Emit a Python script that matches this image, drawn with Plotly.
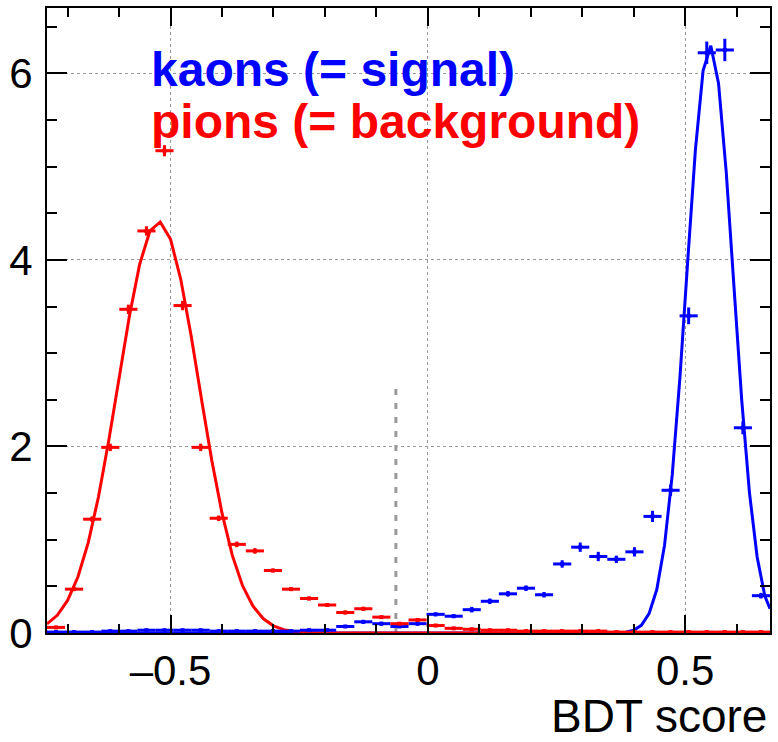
import plotly.graph_objects as go

# ---- data ----
bin_centers = [-0.7224, -0.6873, -0.6522, -0.6170, -0.5819, -0.5468, -0.5117, -0.4765,
               -0.4414, -0.4063, -0.3712, -0.3360, -0.3009, -0.2658, -0.2307, -0.1956,
               -0.1604, -0.1253, -0.0902, -0.0551, -0.0199, 0.0152, 0.0503, 0.0854,
               0.1206, 0.1557, 0.1908, 0.2259, 0.2611, 0.2962, 0.3313, 0.3664,
               0.4016, 0.4367, 0.4718, 0.5069, 0.5421, 0.5772, 0.6123, 0.6474]
half_bin = 0.0176

pions = [0.06, 0.47, 1.22, 1.99, 3.47, 4.31, 5.17, 3.51, 1.99, 1.23, 0.95, 0.88, 0.67, 0.47,
         0.37, 0.30, 0.22, 0.26, 0.17, 0.10, 0.14, 0.08, 0.05, 0.04, 0.03, 0.03, 0.02, 0.02,
         0.02, 0.02, 0.02, 0.01, 0.01, 0.01, 0.01, 0.01, 0.01, 0.01, 0.01, 0.01]
pions_err = [0.01, 0.02, 0.03, 0.04, 0.05, 0.05, 0.06, 0.05, 0.04, 0.03, 0.03, 0.03, 0.02, 0.02,
             0.02, 0.02, 0.02, 0.02, 0.01, 0.01, 0.01, 0.01, 0.01, 0.01, 0.01, 0.01, 0.01, 0.01,
             0.01, 0.01, 0.01, 0.01, 0.01, 0.01, 0.01, 0.01, 0.01, 0.01, 0.01, 0.01]

kaons = [0.01, 0.01, 0.01, 0.02, 0.02, 0.03, 0.03, 0.03, 0.03, 0.02, 0.02, 0.02, 0.02, 0.02,
         0.03, 0.03, 0.07, 0.12, 0.10, 0.07, 0.10, 0.20, 0.18, 0.25, 0.34, 0.42, 0.48, 0.41,
         0.74, 0.92, 0.82, 0.79, 0.87, 1.25, 1.53, 3.40, 6.22, 6.25, 2.20, 0.40]
kaons_err = [0.01, 0.01, 0.01, 0.01, 0.01, 0.01, 0.01, 0.01, 0.01, 0.01, 0.01, 0.01, 0.01, 0.01,
             0.01, 0.01, 0.01, 0.02, 0.02, 0.01, 0.02, 0.02, 0.02, 0.03, 0.03, 0.03, 0.03, 0.03,
             0.04, 0.05, 0.05, 0.04, 0.05, 0.06, 0.06, 0.09, 0.12, 0.12, 0.07, 0.03]

pion_fit_x = [-0.74, -0.72, -0.70, -0.68, -0.66, -0.64, -0.62, -0.60, -0.58, -0.56, -0.54,
              -0.52, -0.50, -0.48, -0.46, -0.44, -0.42, -0.40, -0.38, -0.36, -0.34, -0.32,
              -0.30, -0.28, -0.26, -0.24, -0.22, 0.665]
pion_fit_y = [0.097, 0.190, 0.349, 0.600, 0.966, 1.458, 2.063, 2.733, 3.394, 3.951, 4.310,
              4.406, 4.222, 3.790, 3.189, 2.515, 1.858, 1.287, 0.835, 0.508, 0.290, 0.155,
              0.077, 0.036, 0.016, 0.006, 0.0, 0.0]

kaon_fit_x = [-0.74, 0.37, 0.385, 0.40, 0.415, 0.43, 0.445, 0.46, 0.475, 0.49, 0.505, 0.52,
              0.535, 0.55, 0.565, 0.58, 0.595, 0.61, 0.625, 0.64, 0.655, 0.665]
kaon_fit_y = [0.0, 0.0, 0.009, 0.029, 0.082, 0.207, 0.466, 0.939, 1.695, 2.744, 3.981, 5.176,
              6.030, 6.296, 5.891, 4.939, 3.711, 2.499, 1.508, 0.815, 0.395, 0.260]

cut_x = [-0.062, -0.062]
cut_y = [0.0, 2.7]

x_range = [-0.74, 0.665]
y_range = [0, 6.7]
x_tickvals = [-0.5, 0, 0.5]
x_ticktext = ["\u20130.5", "0", "0.5"]
y_tickvals = [0, 2, 4, 6]
y_ticktext = ["0", "2", "4", "6"]

BLUE = "#0000FF"
RED = "#FF0000"
FONT = "Liberation Sans, Arial, Helvetica, sans-serif"

fig = go.Figure()

fig.add_trace(go.Scatter(x=cut_x, y=cut_y, mode="lines",
                         line=dict(color="#999999", width=3, dash="6px,8px"),
                         showlegend=False, hoverinfo="skip"))

fig.add_trace(go.Scatter(x=kaon_fit_x, y=kaon_fit_y, mode="lines",
                         line=dict(color=BLUE, width=3), showlegend=False))
fig.add_trace(go.Scatter(x=pion_fit_x, y=pion_fit_y, mode="lines",
                         line=dict(color=RED, width=3), showlegend=False))

fig.add_trace(go.Scatter(x=bin_centers, y=kaons, mode="markers",
                         marker=dict(color=BLUE, size=4, symbol="square"),
                         error_x=dict(type="constant", value=half_bin, color=BLUE,
                                      thickness=3, width=0),
                         error_y=dict(type="data", array=kaons_err, color=BLUE,
                                      thickness=3, width=0),
                         showlegend=False))
fig.add_trace(go.Scatter(x=bin_centers, y=pions, mode="markers",
                         marker=dict(color=RED, size=4, symbol="square"),
                         error_x=dict(type="constant", value=half_bin, color=RED,
                                      thickness=3, width=0),
                         error_y=dict(type="data", array=pions_err, color=RED,
                                      thickness=3, width=0),
                         showlegend=False))

axis_common = dict(showline=True, linecolor="black", linewidth=2, mirror="allticks",
                   ticks="inside", tickcolor="black", tickwidth=2,
                   showgrid=True, gridcolor="#999999", gridwidth=1, griddash="dot",
                   zeroline=False, tickfont=dict(family=FONT, size=42, color="black"))

fig.update_xaxes(range=x_range, tickmode="array", tickvals=x_tickvals,
                 ticktext=x_ticktext, ticklen=18,
                 minor=dict(tickmode="linear", tick0=0, dtick=0.1, ticks="inside",
                            ticklen=9, tickcolor="black", tickwidth=2, showgrid=False),
                 ticklabelstandoff=0, **axis_common)
fig.update_yaxes(range=y_range, tickmode="array", tickvals=y_tickvals,
                 ticktext=y_ticktext, ticklen=20,
                 minor=dict(tickmode="linear", tick0=0, dtick=0.5, ticks="inside",
                            ticklen=10, tickcolor="black", tickwidth=2, showgrid=False),
                 ticklabelstandoff=4, **axis_common)

fig.add_annotation(text="<b>kaons (= signal)</b>", xref="paper", yref="paper",
                   x=0.141, y=0.901, xanchor="left", yanchor="middle", showarrow=False,
                   font=dict(family=FONT, size=48, color=BLUE))
fig.add_annotation(text="<b>pions (= background)</b>", xref="paper", yref="paper",
                   x=0.141, y=0.818, xanchor="left", yanchor="middle", showarrow=False,
                   font=dict(family=FONT, size=48, color=RED))
fig.add_annotation(text="BDT score", xref="paper", yref="paper",
                   x=0.999, y=-0.132, xanchor="right", yanchor="middle", showarrow=False,
                   font=dict(family=FONT, size=46, color="black"))

fig.update_layout(width=778, height=742, margin=dict(l=47, r=6, t=7, b=109),
                  paper_bgcolor="white", plot_bgcolor="white", showlegend=False)

fig.write_html("out.html", config={"displayModeBar": False},
               post_script="document.body.style.margin='0px';")
